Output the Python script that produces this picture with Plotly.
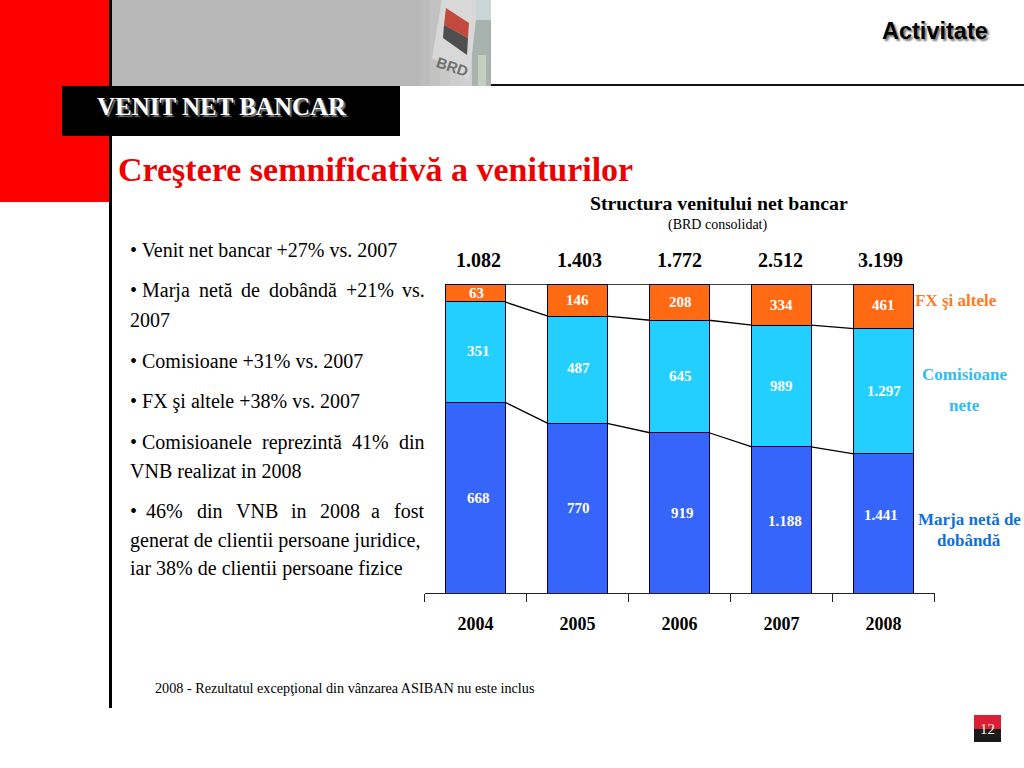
import plotly.graph_objects as go

years = ["2004", "2005", "2006", "2007", "2008"]
marja = [668, 770, 919, 1188, 1441]
comisioane = [351, 487, 645, 989, 1297]
fx = [63, 146, 208, 334, 461]
totals = ["1.082", "1.403", "1.772", "2.512", "3.199"]
marja_txt = ["668", "770", "919", "1.188", "1.441"]
comisioane_txt = ["351", "487", "645", "989", "1.297"]
fx_txt = ["63", "146", "208", "334", "461"]

W, H = 1024, 768
BAR_HALF = 0.29
SERIF = "Liberation Serif"
BLUE, CYAN, ORANGE = "#3565FA", "#22CFFF", "#FF6A12"

def px(x):
    return x / W

def py(y):
    return 1 - y / H

def note(text, x, y, size=20, color="black", bold=False, anchor="left", family=SERIF, shadow=None):
    font = dict(family=family, size=size, color=color, weight="bold" if bold else "normal")
    if shadow:
        font["shadow"] = shadow
    return dict(text=text, x=px(x), y=py(y), xref="paper", yref="paper", showarrow=False,
                xanchor=anchor, yanchor="middle", font=font, borderpad=0, borderwidth=0)

def rect(x0, y0, x1, y1, color, layer="below"):
    return dict(type="rect", xref="paper", yref="paper", x0=px(x0), x1=px(x1), y0=py(y0), y1=py(y1),
                fillcolor=color, line_width=0, layer=layer)

def poly(points, color):
    path = "M " + " L ".join(f"{px(a):.4f} {py(b):.4f}" for a, b in points) + " Z"
    return dict(type="path", xref="paper", yref="paper", path=path, fillcolor=color, line_width=0, layer="below")

fig = go.Figure()
for name, vals, color in [("Marja neta de dobanda", marja, BLUE),
                          ("Comisioane nete", comisioane, CYAN),
                          ("FX si altele", fx, ORANGE)]:
    fig.add_trace(go.Bar(x=years, y=vals, name=name, marker=dict(color=color, line=dict(color="#000033", width=1))))

shapes = []
# header background
shapes.append(rect(0, 0, 110, 202, "#FF0000"))
shapes.append(rect(112, 0, 420, 86, "#B8B8B8"))
for i, c in enumerate(["#BCBCBC", "#C2C2C2", "#C8C8C8", "#CDCDCD", "#D0D0D0", "#D0D0D0", "#CCCCCC"]):
    shapes.append(rect(420 + i * 10, 0, 430 + i * 10, 86, c))
shapes.append(rect(472, 0, 491, 20, "#C9D6D6"))
shapes.append(rect(472, 20, 491, 86, "#A8B2AE"))
shapes.append(rect(478, 55, 486, 86, "#C4CFBE"))
shapes.append(poly([(442, 0), (432, 58), (469, 80), (476, 20), (476, 0)], "#D8D8D8"))
shapes.append(poly([(446, 8), (469, 23), (468, 38), (444, 25)], "#C24A3C"))
shapes.append(poly([(444, 25), (468, 38), (467, 55), (443, 38)], "#4E4E4E"))
shapes.append(rect(62, 86, 400, 136, "#000000"))
shapes.append(rect(109, 0, 112, 708, "#000000"))
shapes.append(rect(491, 84, 1024, 86, "#111111"))
# page number box
shapes.append(rect(974, 715, 1001, 729, "#DC1E35"))
shapes.append(rect(974, 729, 1001, 742, "#1A1A1A"))

# connectors between the stacks
for i in range(len(years) - 1):
    for upto in (1, 2, 3):
        tops = []
        for j in (i, i + 1):
            parts = [marja[j], comisioane[j], fx[j]]
            tops.append(100 * sum(parts[:upto]) / sum(parts))
        shapes.append(dict(type="line", xref="x", yref="y", x0=i + BAR_HALF, x1=i + 1 - BAR_HALF,
                           y0=tops[0], y1=tops[1], line=dict(color="black", width=1.3), layer="above"))

notes = [
    note("Activitate", 988, 31, 23.5, bold=True, anchor="right", family="Liberation Sans", shadow="2px 2px 2px #777"),
    note("VENIT NET BANCAR", 97, 107, 25, "white", True, shadow="2px 2px 1px #777"),
    note("Creştere semnificativă a veniturilor", 118, 170, 34, "#EE0000", True),
    note("Structura venitului net bancar", 719, 203, 19.8, bold=True, anchor="center"),
    note("(BRD consolidat)", 717, 225, 14, anchor="center"),
    note("2008 - Rezultatul excepţional din vânzarea ASIBAN nu este inclus", 155, 688, 14.2),
    note("12", 987, 729, 15, "#EEEEEE", anchor="center"),
    note("FX şi altele", 956, 301, 17, "#FF7A22", True, "center"),
    note("Comisioane", 964, 374, 17, "#33BBEE", True, "center"),
    note("nete", 964, 405, 17, "#33BBEE", True, "center"),
    note("Marja netă de", 969, 519, 17, "#0F6FE0", True, "center"),
    note("dobândă", 969, 540, 17, "#0F6FE0", True, "center"),
]

# bullet text, left aligned lines
for text, y in [("• Venit net bancar +27% vs. 2007", 250), ("2007", 320), ("• Comisioane +31% vs. 2007", 361),
                ("• FX şi altele +38% vs. 2007", 401), ("VNB realizat in 2008", 471),
                ("generat de clientii persoane juridice,", 540), ("iar 38% de clientii persoane fizice", 568)]:
    notes.append(note(text, 130, y, 20))

# justified lines, word by word
for words, starts, y in [
    (["•", "Marja", "netă", "de", "dobândă", "+21%", "vs."], [130, 142, 199, 241, 269, 346, 402], 290),
    (["•", "Comisioanele", "reprezintă", "41%", "din"], [130, 142, 262, 352, 399], 442),
    (["•", "46%", "din", "VNB", "in", "2008", "a", "fost"], [130, 146, 197, 236, 291, 320, 371, 394], 511),
]:
    for word, start in zip(words, starts):
        notes.append(note(word, start, y, 20))

# totals above the bars
for label, x in zip(totals, [478, 579, 679, 780, 880]):
    notes.append(note(label, x, 260, 20, bold=True, anchor="center"))

# value labels with the small offsets seen in the picture
nudges = {
    0: ([3, 1, 3, 3, -3], [0, 0, 0, -1, 8]),
    1: ([3, 1, 1, 0, 0], [1, 2, 1, 0, 0]),
    2: ([1, 0, 1, 0, 0], [0, 0, 0, 0, 1]),
}
for k, (vals, labels) in enumerate([(marja, marja_txt), (comisioane, comisioane_txt), (fx, fx_txt)]):
    for i in range(len(years)):
        parts = [marja[i], comisioane[i], fx[i]]
        mid = 100 * (sum(parts[:k]) + parts[k] / 2) / sum(parts)
        notes.append(dict(text=labels[i], x=i, y=mid, xref="x", yref="y", showarrow=False,
                          xshift=nudges[k][0][i], yshift=nudges[k][1][i],
                          font=dict(family=SERIF, size=15, color="white", weight="bold")))

notes.append(dict(text="BRD", x=px(452), y=py(51), xref="paper", yref="paper", showarrow=False, textangle=18,
                  font=dict(family="Liberation Sans", size=15, color="#707070", weight="bold")))

fig.update_layout(
    width=W, height=H, margin=dict(l=0, r=0, t=0, b=0, pad=0),
    paper_bgcolor="white", plot_bgcolor="rgba(0,0,0,0)",
    barmode="stack", barnorm="percent", bargap=0.42, showlegend=False,
    shapes=shapes, annotations=notes,
    xaxis=dict(domain=[px(424.5), px(934.5)], type="category", tickson="boundaries", ticks="outside", ticklen=8,
               tickcolor="#222222", showline=True, linecolor="#222222", linewidth=1, showgrid=False,
               ticklabelstandoff=14, tickfont=dict(family=SERIF, size=18, color="black", weight="bold")),
    yaxis=dict(domain=[py(593), py(284)], range=[0, 100], visible=False),
)

fig.write_html("out.html", config=dict(displayModeBar=False),
               post_script="document.body.style.margin='0';document.body.style.overflow='hidden';")
